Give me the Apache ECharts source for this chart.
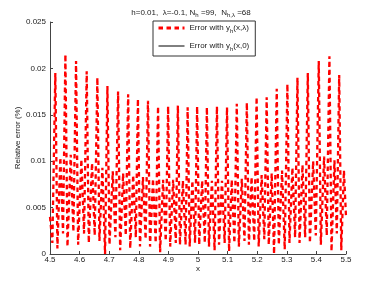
<!DOCTYPE html>
<html>
<head>
<meta charset="utf-8">
<script src="https://cdn.jsdelivr.net/npm/echarts@6/dist/echarts.min.js"></script>
<style>html,body{margin:0;padding:0;background:#fff}#c{width:382px;height:287px}</style>
</head>
<body>
<div id="c"></div>
<script>
// Red dashed series: Error with y_h(x,λ)
var xVals = [4.500,4.508,
4.518,4.525,4.535,4.544,
4.552,4.559,4.570,4.579,
4.588,4.595,4.606,4.615,
4.624,4.631,4.642,4.651,
4.660,4.667,4.677,4.686,
4.694,4.701,4.712,4.721,
4.730,4.737,4.747,4.756,
4.764,4.771,4.781,4.790,
4.797,4.804,4.814,4.823,
4.831,4.838,4.848,4.857,
4.865,4.872,4.882,4.891,
4.899,4.906,4.916,4.925,
4.932,4.939,4.949,4.958,
4.965,4.972,4.981,4.990,
4.997,5.004,5.014,5.023,
5.030,5.037,5.047,5.056,
5.064,5.071,5.081,5.090,
5.098,5.105,5.114,5.123,
5.131,5.138,5.148,5.157,
5.165,5.172,5.181,5.190,
5.198,5.205,5.215,5.224,
5.232,5.239,5.249,5.257,
5.266,5.273,5.284,5.293,
5.302,5.309,5.319,5.328,
5.336,5.343,5.353,5.362,
5.371,5.378,5.389,5.398,
5.408,5.415,5.426,5.435,
5.444,5.451,5.461,5.469,
5.477,5.484,5.493,5.500];
var errLambda = [0.0040,0.0012,
0.0195,0.0006,0.0104,0.0022,
0.0215,0.0008,0.0107,0.0024,
0.0208,0.0010,0.0102,0.0022,
0.0197,0.0012,0.0098,0.0020,
0.0190,0.0014,0.0093,0.0000,
0.0181,0.0010,0.0089,0.0018,
0.0175,0.0004,0.0087,0.0020,
0.0172,0.0006,0.0085,0.0018,
0.0167,0.0008,0.0083,0.0016,
0.0165,0.0008,0.0081,0.0012,
0.0159,0.0002,0.0080,0.0014,
0.0159,0.0008,0.0080,0.0012,
0.0160,0.0010,0.0079,0.0010,
0.0158,0.0008,0.0079,0.0012,
0.0159,0.0010,0.0079,0.0012,
0.0158,0.0008,0.0079,0.0004,
0.0159,0.0010,0.0079,0.0012,
0.0158,0.0003,0.0080,0.0012,
0.0162,0.0008,0.0081,0.0014,
0.0163,0.0010,0.0083,0.0014,
0.0169,0.0008,0.0085,0.0016,
0.0169,0.0010,0.0087,0.0000,
0.0178,0.0010,0.0090,0.0005,
0.0183,0.0012,0.0093,0.0018,
0.0190,0.0012,0.0096,0.0018,
0.0195,0.0012,0.0100,0.0020,
0.0208,0.0010,0.0105,0.0020,
0.0213,0.0003,0.0101,0.0022,
0.0193,0.0004,0.0090,0.0040];
// Black solid series: Error with y_h(x,0) (no visible points in range)
var errZero = [];
var xTicks = ['4.5','4.6','4.7','4.8','4.9','5','5.1','5.2','5.3','5.4','5.5'];
var yTicks = ['0','0.005','0.01','0.015','0.02','0.025'];

var FONT = 'Liberation Sans';
var dataLambda = xVals.map(function (x, i) { return [x, errLambda[i]]; });

var chart = echarts.init(document.getElementById('c'), null, {renderer: 'canvas'});
chart.setOption({
  animation: false,
  backgroundColor: '#fff',
  title: {
    text: '{a|h=0.01,  λ=-0.1, N}{s|h}{a| =99,  N}{s|h,λ}{a| =68}',
    left: 'center', top: 2,
    textStyle: {
      fontFamily: FONT, fontSize: 8, fontWeight: 'normal', color: '#222',
      rich: {
        a: {fontFamily: FONT, fontSize: 8, color: '#222'},
        s: {fontFamily: FONT, fontSize: 6, color: '#222', verticalAlign: 'bottom', padding: [5, 0, 0, 0]}
      }
    }
  },
  legend: {
    orient: 'vertical',
    left: 153, top: 21,
    width: 101,
    padding: [3, 6, 4, 4],
    borderColor: '#333', borderWidth: 1,
    itemWidth: 26, itemHeight: 8, itemGap: 8,
    backgroundColor: '#fff',
    itemStyle: {opacity: 0},
    textStyle: {
      fontFamily: FONT, fontSize: 8, color: '#222',
      rich: {
        a: {fontFamily: FONT, fontSize: 8, color: '#222'},
        s: {fontFamily: FONT, fontSize: 6, color: '#222', padding: [6, 0, 0, 0]}
      }
    },
    formatter: function (name) {
      return name === 'lam' ? '{a|Error with y}{s|h}{a|(x,λ)}' : '{a|Error with y}{s|h}{a|(x,0)}';
    },
    data: [{name: 'lam', lineStyle: {width: 3}}, {name: 'zero', lineStyle: {width: 1}}]
  },
  grid: {left: 50, right: 36, top: 22, bottom: 33},
  xAxis: {
    type: 'value', min: 4.5, max: 5.5, interval: 0.1,
    name: 'x', nameLocation: 'middle', nameGap: 11, nameMoveOverlap: false,
    nameTextStyle: {fontFamily: FONT, fontSize: 8, color: '#222'},
    axisLine: {lineStyle: {color: '#444', width: 1}},
    axisTick: {inside: true, length: 3, lineStyle: {color: '#444'}},
    axisLabel: {
      margin: 2, fontFamily: FONT, fontSize: 8, color: '#222',
      formatter: function (v) { return xTicks[Math.round((v - 4.5) * 10)]; }
    },
    splitLine: {show: false}
  },
  yAxis: {
    type: 'value', min: 0, max: 0.025, interval: 0.005,
    name: 'Relative error (%)', nameLocation: 'middle', nameGap: 28, nameRotate: 90, nameMoveOverlap: false,
    nameTextStyle: {fontFamily: FONT, fontSize: 8, color: '#222'},
    axisLine: {show: true, lineStyle: {color: '#444', width: 1}},
    axisTick: {show: true, inside: true, length: 3, lineStyle: {color: '#444'}},
    axisLabel: {
      margin: 4, fontFamily: FONT, fontSize: 8, color: '#222',
      formatter: function (v) { return yTicks[Math.round(v / 0.005)]; }
    },
    splitLine: {show: false}
  },
  series: [
    {
      name: 'lam', type: 'line', data: dataLambda,
      showSymbol: false, symbol: 'none',
      lineStyle: {color: '#ff0000', width: 2.3, type: [4.5, 3.5]},
      itemStyle: {color: '#ff0000'}
    },
    {
      name: 'zero', type: 'line', data: errZero,
      showSymbol: false, symbol: 'none',
      lineStyle: {color: '#000', width: 1, type: 'solid'},
      itemStyle: {color: '#000'}
    }
  ]
});
</script>
</body>
</html>
